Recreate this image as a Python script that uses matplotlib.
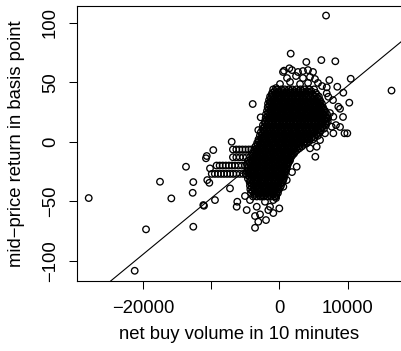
import matplotlib
matplotlib.use("Agg")
import matplotlib.pyplot as plt
import numpy as np

plt.rcParams["font.family"] = ["Liberation Sans", "DejaVu Sans"]

# dense core of the cloud, one row of volumes per return level
core_y = [44, 41, 38, 35, 32, 29, 26, 23, 20, 17, 14, 11, 8, 5, 2, -1, -4, -7,
          -10, -13, -16, -19, -22, -25, -28, -31, -34, -37, -40, -43, -46]
core_x = [
    [-900, -300, 300, 800, 1400, 1900, 2500, 3100, 3700, 4400, 5100],
    [-1050, -500, 50, 600, 1100, 1650, 2200, 2700, 3300, 3900, 4500, 5350],
    [-1350, -850, -300, 250, 750, 1300, 1800, 2350, 2900, 3400, 4000, 4600, 5200, 5800],
    [-1500, -950, -450, 100, 600, 1100, 1650, 2150, 2700, 3250, 3750, 4300, 4850, 5400, 5950],
    [-1650, -1150, -600, -100, 450, 950, 1500, 2000, 2550, 3050, 3600, 4100, 4650, 5200, 5750, 6250],
    [-1700, -1200, -700, -150, 350, 900, 1400, 1950, 2450, 3000, 3500, 4050, 4550, 5100, 5650, 6150, 6400],
    [-1800, -1300, -750, -250, 250, 800, 1300, 1850, 2350, 2900, 3400, 3950, 4450, 5000, 5550, 6050, 6700],
    [-1950, -1400, -900, -350, 150, 700, 1200, 1750, 2250, 2800, 3300, 3850, 4350, 4900, 5450, 5950, 6500, 7000],
    [-2000, -1500, -950, -450, 100, 600, 1100, 1650, 2150, 2700, 3200, 3750, 4250, 4800, 5300, 5850, 6350, 6900, 7150],
    [-2100, -1550, -1050, -500, 0, 550, 1050, 1600, 2100, 2650, 3150, 3700, 4200, 4750, 5250, 5800, 6300, 6850, 7100],
    [-2400, -1850, -1350, -800, -300, 250, 750, 1300, 1800, 2350, 2850, 3400, 3900, 4450, 4950, 5500, 6000, 6550, 6850],
    [-2450, -1900, -1400, -850, -350, 200, 700, 1250, 1750, 2300, 2800, 3350, 3850, 4400, 4900, 5450, 6000, 6550],
    [-2700, -2150, -1650, -1100, -600, -50, 450, 1000, 1500, 2050, 2550, 3100, 3600, 4150, 4650, 5200, 5950],
    [-2850, -2300, -1800, -1250, -750, -200, 300, 850, 1350, 1900, 2400, 2950, 3450, 4000, 4500, 5050, 5650],
    [-3050, -2500, -2000, -1450, -950, -400, 100, 650, 1150, 1700, 2200, 2750, 3250, 3800, 4350, 4950],
    [-3250, -2750, -2200, -1700, -1150, -650, -100, 400, 950, 1450, 2000, 2500, 3050, 3550, 4050],
    [-3500, -2950, -2450, -1900, -1400, -850, -350, 200, 700, 1250, 1750, 2300, 2800, 3300],
    [-3700, -3200, -2650, -2150, -1600, -1100, -550, -50, 500, 1000, 1550, 2050, 2600],
    [-4000, -3450, -2950, -2400, -1900, -1350, -850, -300, 200, 750, 1250, 1800, 2150],
    [-4300, -3750, -3250, -2700, -2200, -1650, -1150, -600, -100, 450, 950, 1450, 1700],
    [-4600, -4050, -3550, -3000, -2500, -1950, -1450, -900, -400, 150, 650, 1150, 1550],
    [-4750, -4200, -3700, -3150, -2650, -2100, -1600, -1050, -550, 0, 500, 1000, 1250],
    [-4700, -4200, -3650, -3150, -2600, -2100, -1550, -1050, -500, 0, 550, 1100],
    [-4750, -4250, -3700, -3200, -2650, -2150, -1600, -1100, -550, -50, 500, 950],
    [-4700, -4150, -3650, -3100, -2600, -2050, -1550, -1000, -500, 50, 550, 800],
    [-4600, -4050, -3550, -3000, -2500, -1950, -1450, -900, -400, 150, 650],
    [-4350, -3850, -3300, -2800, -2250, -1750, -1200, -700, -150, 450],
    [-4300, -3750, -3250, -2700, -2200, -1650, -1150, -600, -100, 250],
    [-4250, -3700, -3200, -2650, -2150, -1600, -1100, -550, -50],
    [-4150, -3600, -3100, -2550, -2050, -1500, -1000, -450, -200],
    [-3850, -3300, -2800, -2250, -1750, -1200, -700, -500],
]

# in-between rows of the core
mid_y = [42.5, 39.5, 36.5, 33.5, 30.5, 27.5, 24.5, 21.5, 18.5, 15.5, 12.5, 9.5,
         6.5, 3.5, 0.5, -2.5, -5.5, -8.5, -11.5, -14.5, -17.5, -20.5, -23.5,
         -26.5, -29.5, -32.5, -35.5, -38.5, -41.5, -44.5]
mid_x = [
    [-700, -100, 550, 1100, 1650, 2200, 2800, 3400, 4050, 4700],
    [-1100, -550, 0, 500, 1050, 1550, 2100, 2650, 3150, 3700, 4300, 4900, 5500],
    [-1200, -700, -150, 350, 850, 1400, 1900, 2450, 2950, 3500, 4050, 4550, 5100, 5650],
    [-1350, -800, -300, 250, 750, 1300, 1800, 2350, 2850, 3400, 3900, 4450, 5000, 5500, 6050],
    [-1450, -900, -400, 150, 650, 1200, 1700, 2250, 2750, 3300, 3800, 4350, 4900, 5450, 6000],
    [-1500, -950, -450, 100, 600, 1150, 1650, 2200, 2700, 3250, 3750, 4300, 4800, 5350, 5900, 6450],
    [-1600, -1100, -550, -50, 450, 1000, 1500, 2050, 2550, 3100, 3600, 4150, 4650, 5200, 5750, 6300, 6800],
    [-1700, -1200, -700, -150, 350, 900, 1400, 1950, 2450, 3000, 3500, 4050, 4550, 5100, 5600, 6150, 6650],
    [-1800, -1300, -750, -250, 300, 800, 1350, 1850, 2400, 2900, 3450, 3950, 4500, 5000, 5550, 6050, 6600],
    [-2100, -1600, -1050, -550, 0, 500, 1050, 1550, 2100, 2600, 3150, 3650, 4200, 4700, 5250, 5750, 6300, 6800],
    [-2150, -1650, -1100, -600, -50, 450, 1000, 1500, 2050, 2550, 3100, 3600, 4150, 4650, 5200, 5700, 6300],
    [-2300, -1800, -1250, -750, -200, 300, 850, 1350, 1900, 2400, 2950, 3450, 4000, 4500, 5050, 5600, 6100],
    [-2500, -2000, -1450, -950, -400, 100, 650, 1150, 1700, 2200, 2750, 3250, 3800, 4300, 4850, 5450],
    [-2600, -2100, -1550, -1050, -500, 0, 550, 1050, 1600, 2100, 2650, 3150, 3700, 4200, 4750, 5200],
    [-3000, -2450, -1950, -1400, -900, -350, 150, 700, 1200, 1750, 2250, 2800, 3300, 3850, 4400],
    [-3200, -2700, -2150, -1650, -1100, -600, -50, 450, 950, 1500, 2000, 2550, 3050, 3600],
    [-3350, -2800, -2300, -1750, -1250, -700, -200, 350, 850, 1400, 1900, 2450, 2950],
    [-3550, -3050, -2500, -2000, -1450, -950, -400, 100, 600, 1150, 1650, 2300],
    [-3850, -3350, -2800, -2300, -1750, -1250, -700, -200, 300, 850, 1350, 1900],
    [-4150, -3650, -3100, -2600, -2050, -1550, -1000, -500, 50, 550, 1050, 1600],
    [-4400, -3900, -3350, -2850, -2300, -1800, -1250, -750, -200, 300, 800, 1350],
    [-4450, -3950, -3400, -2900, -2350, -1850, -1300, -800, -250, 250, 750, 1150],
    [-4450, -3950, -3400, -2900, -2350, -1850, -1300, -800, -250, 250, 750, 1000],
    [-4450, -3900, -3400, -2850, -2350, -1800, -1300, -750, -250, 300, 700],
    [-4350, -3850, -3300, -2800, -2250, -1750, -1200, -700, -150, 400, 700],
    [-4250, -3700, -3200, -2650, -2150, -1600, -1100, -550, -50, 550],
    [-4050, -3550, -3000, -2500, -1950, -1450, -900, -400, 150],
    [-4000, -3450, -2950, -2400, -1900, -1350, -850, -350, 100],
    [-3950, -3400, -2900, -2350, -1850, -1300, -800, -300],
    [-3600, -3050, -2550, -2000, -1500, -950, -400],
]

# horizontal runs of trades left of the core
chain_y = [-6.5, -13, -20, -27]
chain_x = [
    [-6800, -6300, -5850, -5400, -4950, -4500, -4100],
    [-6800, -6300, -5800, -5300, -4800],
    [-9200, -8750, -8300, -7850, -7400, -6950, -6500, -6000, -5500, -5050],
    [-9900, -9450, -9000, -8550, -8100, -7650, -7200, -6750, -6300, -5800, -5300, -4900],
]

# scattered points around the cloud
spread_x = [6850, 16450, 1670, 3960, 6160, 8210, 10470, 1470, 690, 7330, 8500, 9380,
            10260, 8900, 9340, 7920, 9970, 9560, 5280, -3900, -2730, -6980, -9680,
            -10640, -27940, -17490, -13680, -15830, -12610, -12700, -19540, -12610,
            -21200, -11140, -9430, -10750, -10160, -10260, -7230, -10560, -11040,
            540, 1860, 2740, 3470, 4210, 4940, 1130, 2450, 3470, 4500, 5230, 100,
            1570, 3040, 4210, 5670, 6260, -480, -1260, -1610, -3080,
            6950, 7180, 8650, 7920, 7680, 6700, 5970, 5480, 8310, 8900, 6260,
            6950, 7870, 7430, 5970,
            4020, 4500, 2550, 1860, 1090, 590,
            -6160, -6250, -4780, -3310, -3560, -3080, -3560, -1950, -1360, -880,
            0, -1610, -880, -2100, -2830, -2540, -480, -4300, -5030]
spread_y = [106, 43, 74, 67, 68.6, 67.6, 52.9, 61.7, 59.7, 51.8, 46.2, 41.2,
            32.8, 27.7, 20.8, 7.1, 7.1, 7.1, -12.6, 31.7, 20.5, 0, -7,
            -12, -47.3, -33.6, -21, -47.6, -33.9, -42.9, -73.6, -71.4,
            -108.4, -53.2, -49, -13.9, -22.4, -34.5, -39.2, -32.2, -53.8,
            58.6, 60.2, 58.6, 59.4, 60.2, 58.6, 53.5, 55.2, 53.5, 54.4, 52.7, 48.5,
            50.2, 48.5, 49.4, 49.4, 46.8, 45.1, 32.7, 19.6, 9.8,
            45.7, 37.8, 29.4, 21, 12.6, 7.1, 1.4, -4.2, 14, 12.4, 18.2,
            40.7, 35, 24.1, 30.8,
            -1.3, -5.5, -21, -25.5, -32.2, -37.8,
            -50.4, -54.6, -57.4, -54.6, -62.4, -67.2, -72.3, -65.8, -54.6, -49,
            -56, -57.4, -59.9, -50.4, -61, -45.6, -47.3, -49, -45.6]

fit_intercept = -0.3
fit_slope = 0.00472

x_ticks = [-20000, -10000, 0, 10000]
x_tick_labels = ["\u221220000", "", "0", "10000"]
y_ticks = [-100, -50, 0, 50, 100]
y_tick_labels = ["\u2212100", "\u221250", "0", "50", "100"]

xs, ys = [], []
for yv, row in zip(core_y + mid_y + chain_y, core_x + mid_x + chain_x):
    xs.extend(row)
    ys.extend([yv] * len(row))
xs.extend(spread_x)
ys.extend(spread_y)

fig = plt.figure(figsize=(4.01, 3.51), dpi=100)
ax = fig.add_axes([0.1913, 0.1994, 0.8087 + 0.01, 0.7844])

ax.scatter(xs, ys, s=22, facecolors="none", edgecolors="black", linewidths=0.95)
ax.axline((0, fit_intercept), slope=fit_slope, color="black", linewidth=0.8)

ax.set_xlim(-29700, 17840 + 0.01 * 47540 / 0.8087)
ax.set_ylim(-117, 114.3)

ax.set_xticks(x_ticks)
ax.set_xticklabels(x_tick_labels)
ax.set_yticks(y_ticks)
ax.set_yticklabels(y_tick_labels, rotation=90, va="center")
ax.tick_params(length=5.8, width=0.75, labelsize=13.3, pad=8)
ax.tick_params(axis="y", pad=7)
for side in ax.spines.values():
    side.set_linewidth(0.8)
ax.spines["right"].set_visible(False)

fig.text(0.595, 0.022, "net buy volume in 10 minutes", ha="center", va="bottom", fontsize=13.3)
fig.text(0.04, 0.59, "mid\u2212price return in basis point", ha="center", va="center",
         rotation=90, fontsize=13.3)

fig.savefig("out.png", dpi=100)
